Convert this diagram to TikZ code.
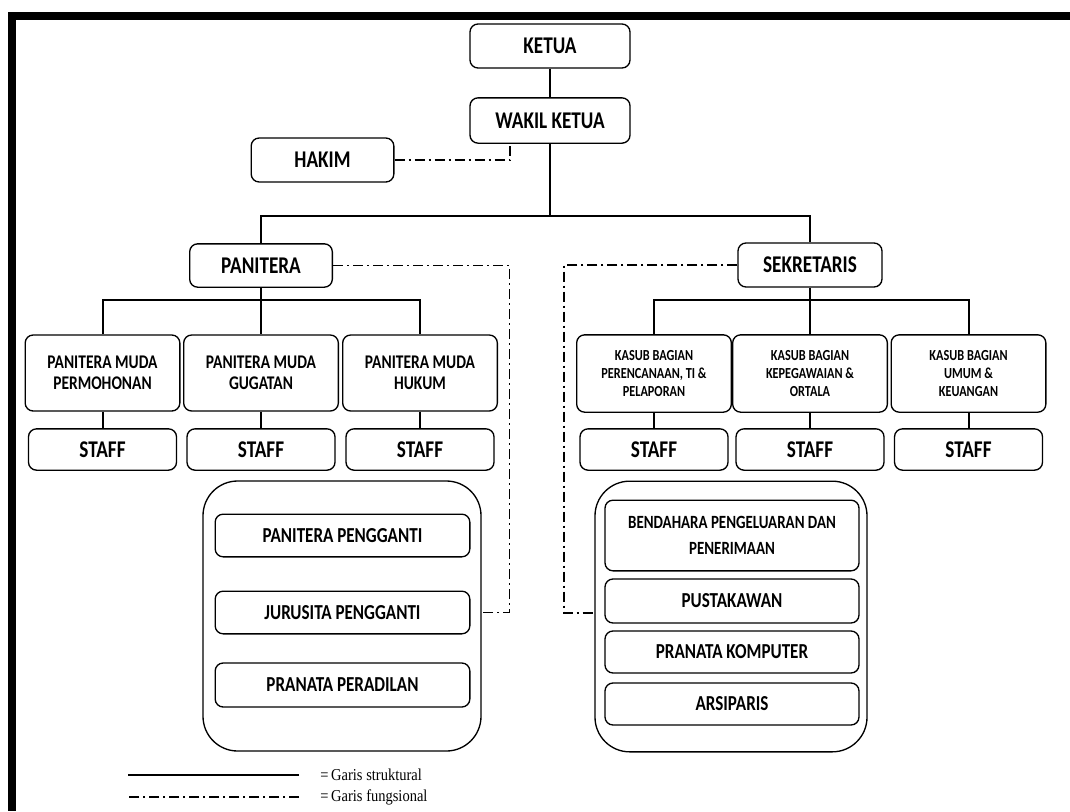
\documentclass[tikz,border=0pt]{standalone}
\usepackage{fontspec}
\newfontfamily\boxfont{Carlito}[FakeStretch=0.8]
\newfontfamily\legendfont{Liberation Serif}[FakeStretch=0.87]
\tikzset{
    kotak/.style={draw, rounded corners=6pt, line width=1pt, inner sep=1pt, align=center,
        font=\boxfont\bfseries\fontsize{18}{20}\selectfont},
    bigbox/.style={kotak, minimum width=107pt, minimum height=33pt},
    mudabox/.style={kotak, minimum width=116pt, minimum height=57pt,
        font=\boxfont\bfseries\fontsize{14.5}{16}\selectfont},
    kasubbox/.style={kotak, minimum width=116pt, minimum height=58pt,
        font=\boxfont\bfseries\fontsize{11.5}{13.5}\selectfont},
    staffbox/.style={kotak, minimum width=111pt, minimum height=31pt},
    innerbox/.style={kotak, minimum width=191pt, minimum height=32pt,
        font=\boxfont\bfseries\fontsize{16}{18}\selectfont},
    groupbox/.style={draw, rounded corners=26pt, line width=1pt, inner sep=0pt},
    legend/.style={anchor=west, inner sep=0pt, font=\legendfont\fontsize{12.5}{14}\selectfont},
    struktural/.style={line width=1.5pt},
    fungsional/.style={line width=1.2pt, dash pattern=on 7.5pt off 3pt on 1.5pt off 3pt},
}
\begin{document}
\begin{tikzpicture}[x=0.75pt,y=-0.75pt]
    \useasboundingbox (0,0) rectangle (1070,811);
    % frame
    \fill (8,12) rectangle (1070,20);
    \fill (8,12) rectangle (16,811);

    % top of the chart
    \node[bigbox, minimum width=120pt] (ketua) at (550,46) {KETUA};
    \node[bigbox, minimum width=120pt, minimum height=34pt] (wakil) at (550,120.5) {WAKIL KETUA};
    \node[bigbox] (hakim) at (322.5,160) {HAKIM};
    \node[bigbox, minimum height=32.5pt] (panitera) at (261,265.5) {PANITERA};
    \node[bigbox, minimum width=108pt] (sekretaris) at (810,265) {SEKRETARIS};
    \coordinate (topbar) at (550,216);
    \draw[struktural] (ketua) -- (wakil);
    \draw[struktural] (wakil.south) -- (topbar);
    \draw[struktural] (panitera.north) |- (topbar) -| (sekretaris.north);
    \draw[fungsional] (hakim.east) -| ([xshift=-30pt]wakil.south);

    % kepaniteraan
    \coordinate (pbar) at (261,300);
    \foreach \i/\x/\txt in {1/102.5/{PANITERA MUDA\\PERMOHONAN}, 2/261/{PANITERA MUDA\\GUGATAN}, 3/420/{PANITERA MUDA\\HUKUM}}
    {
        \node[mudabox] (pm\i) at (\x,373) {\txt};
        \node[staffbox] (sp\i) at (\x,449.5) {STAFF};
        \draw[struktural] (pm\i) -- (sp\i);
    }
    \draw[struktural] (panitera.south) -- (pm2.north);
    \draw[struktural] (pm1.north) |- (pbar) -| (pm3.north);

    % kesekretariatan
    \coordinate (sbar) at (810,300);
    \foreach \i/\x/\txt in {1/654/{KASUB BAGIAN\\PERENCANAAN, TI \&\\PELAPORAN}, 2/810/{KASUB BAGIAN\\KEPEGAWAIAN \&\\ORTALA}, 3/968.5/{KASUB BAGIAN\\UMUM \&\\KEUANGAN}}
    {
        \node[kasubbox] (ks\i) at (\x,373.5) {\txt};
        \node[staffbox] (ss\i) at (\x,449.5) {STAFF};
        \draw[struktural] (ks\i) -- (ss\i);
    }
    \draw[struktural] (sekretaris.south) -- (ks2.north);
    \draw[struktural] (ks1.north) |- (sbar) -| (ks3.north);

    % fungsional panitera
    \node[groupbox, minimum width=208.5pt, minimum height=202.5pt] (grpL) at (342,616) {};
    \node[innerbox] (pengganti) at (342.5,535.5) {PANITERA PENGGANTI};
    \node[innerbox] (jurusita) at (342.5,612.5) {JURUSITA PENGGANTI};
    \node[innerbox, minimum height=33pt] (peradilan) at (342.5,685) {PRANATA PERADILAN};
    \draw[fungsional] (panitera.east) -- ++(176.5,0) |- (grpL.east |- jurusita);

    % fungsional sekretaris
    \node[groupbox, minimum width=204pt, minimum height=203pt] (grpR) at (731,616.5) {};
    \node[innerbox, minimum width=190.5pt, minimum height=53pt,
        font=\boxfont\bfseries\fontsize{14}{19}\selectfont] (bendahara) at (732,535.5) {BENDAHARA PENGELUARAN DAN\\PENERIMAAN};
    \node[innerbox, minimum width=190.5pt, minimum height=33pt] (pustakawan) at (732,601) {PUSTAKAWAN};
    \node[innerbox, minimum width=190.5pt, minimum height=31.5pt] (komputer) at (732,652) {PRANATA KOMPUTER};
    \node[innerbox, minimum width=190.5pt, minimum height=31.5pt] (arsiparis) at (732,704) {ARSIPARIS};
    \coordinate (fs) at (564,613);
    \draw[fungsional] (sekretaris.west) -| (fs) -- (grpR.west |- fs);

    % keterangan
    \node[legend] (lgs) at (320,775) {=\,Garis struktural};
    \node[legend] (lgf) at (320,797) {=\,Garis fungsional};
    \draw[struktural] ([xshift=-15.75pt]lgs.west) -- ++(-171,0);
    \draw[fungsional] ([xshift=-15.75pt]lgf.west) -- ++(-171,0);
\end{tikzpicture}
\end{document}
